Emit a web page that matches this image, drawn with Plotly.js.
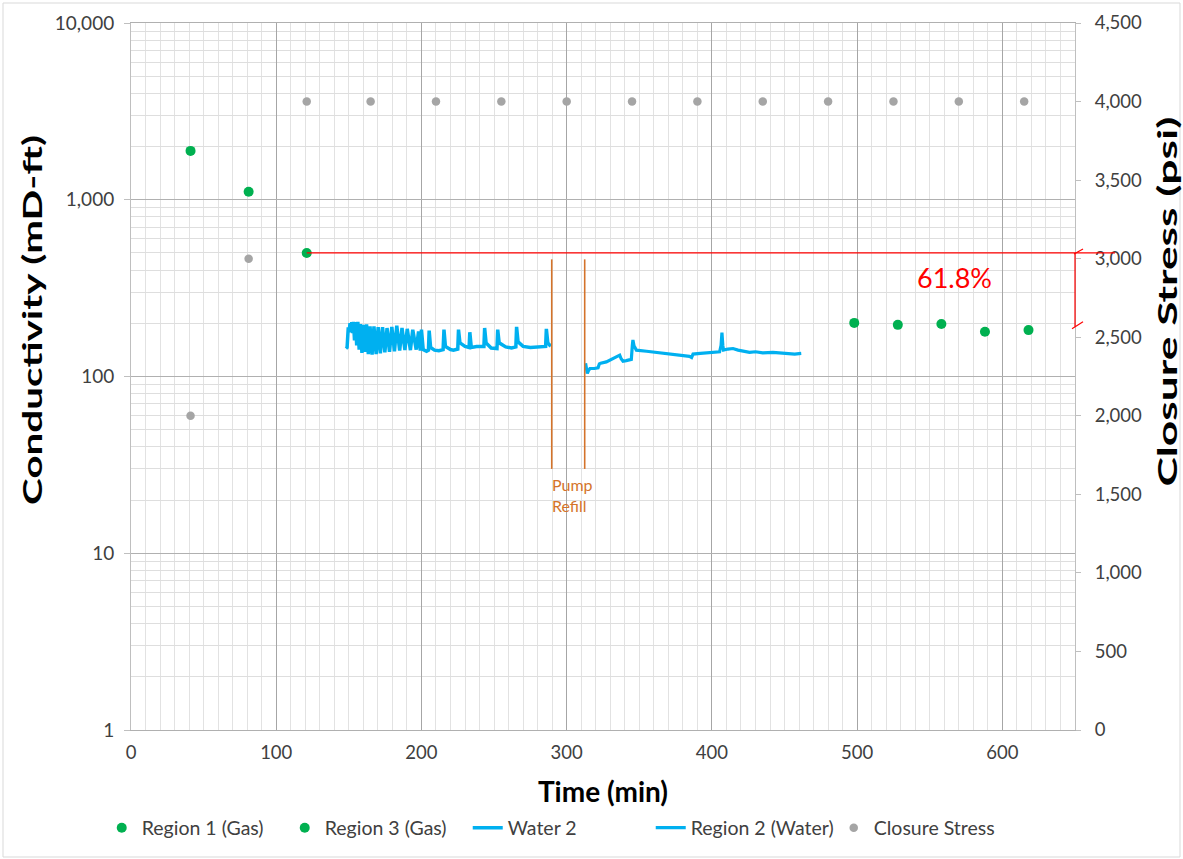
<!DOCTYPE html>
<html>
<head>
<meta charset="utf-8">
<script src="https://cdn.plot.ly/plotly-3.0.1.min.js"></script>
<style>html,body{margin:0;padding:0;background:#fff;}#chart{width:1183px;height:859px;}</style>
</head>
<body>
<div id="chart"></div>
<script>
// ---- Data ----
const region1Time = [41, 81, 121];
const region1Value = [1890, 1110, 500];

const region3Time = [498, 528, 558, 588, 618];
const region3Value = [201, 196, 198, 179, 183];

const water2Time = [148.0,148.8,149.6,150.2,150.8,151.4,152.0,152.6,153.2,153.9,154.6,155.4,156.2,157.1,158.0,159.0,160.0,161.1,162.2,163.4,164.6,166.0,167.3,168.8,170.2,171.7,173.2,174.8,176.3,178.0,179.6,181.4,183.0,185.0,186.6,188.6,190.2,192.4,194.0,196.4,198.0,199.2,200.0,201.2,203.5,204.8,205.3,206.3,209.0,212.0,214.9,215.5,216.5,220.0,222.0,225.0,225.5,226.5,230.0,232.8,233.3,234.3,238.0,241.0,243.0,243.5,244.5,248.0,252.0,252.5,253.5,258.0,262.0,265.0,265.5,266.5,270.0,275.0,280.0,285.5,286.0,287.0,289.0];
const water2Value = [144,146,190,178,200,182,203,176,204,160,203,150,204,142,198,136,196,138,197,134,192,133,192,134,190,135,190,137,188,138,191,139,194,140,188,141,186,141,184,142,180,140,184,142,139,141,182,146,141,140,142,184,148,142,141,143,184,155,148,146,178,146,148,147,148,188,155,145,144,184,155,147,145,147,191,157,148,146,147,148,186,155,148];

const region2WaterTime = [313.0,314.2,315.0,316.0,319.0,321.6,322.5,323.4,327.3,330.0,333.0,336.5,337.5,338.8,341.0,344.5,345.2,345.6,346.3,347.0,348.0,355.0,365.0,375.0,384.5,386.0,387.0,392.0,398.4,405.3,406.3,406.9,407.5,408.0,411.0,414.5,418.0,422.0,425.9,430.0,435.0,442.0,446.0,450.0,453.4,457.0,461.5];
const region2WaterValue = [119,104,108,111,111,112,118,119,121,124,128,132,126,122,123,125,150,161,150,145,141,139,136,133,130,128,134,135,137,138,150,177,150,141,143,144,141,139,137,138,136,137,136,136,135,134,135];

const stressTime = [41, 81, 121, 165, 210, 255, 300, 345, 390, 435, 480, 525, 570, 615];
const stressValue = [2000, 3000, 4000, 4000, 4000, 4000, 4000, 4000, 4000, 4000, 4000, 4000, 4000, 4000];

const pumpRefillTimes = [289.7, 312.4];
const pumpRefillRange = [30, 460];

const baselineConductivity = 500;   // start of red reference line
const reducedConductivity = 191;    // end of red bracket
const reductionLabel = '61.8%';

const yTickVals = [1, 10, 100, 1000, 10000];
const yTickText = ['1', '10', '100', '1,000', '10,000'];

const yTitle = 'Conductivity (mD-ft)';
const y2Title = 'Closure Stress (psi)';
const xTitle = 'Time (min)';

// ---- Chart ----
const minorVals = [];
for (let k = 0; k < 4; k++) for (let d = 2; d <= 9; d++) minorVals.push(d * Math.pow(10, k));

const green = '#00b050', blue = '#00b0f0', grey = '#a5a5a5', orange = '#d4732a', red = '#ff0000';

const pumpX = [], pumpY = [];
pumpRefillTimes.forEach(t => { pumpX.push(t, t, null); pumpY.push(pumpRefillRange[0], pumpRefillRange[1], null); });

const traces = [
  {x: region1Time, y: region1Value, name: 'Region 1 (Gas)', type: 'scatter', mode: 'markers', marker: {color: green, size: 10}},
  {x: region3Time, y: region3Value, name: 'Region 3 (Gas)', type: 'scatter', mode: 'markers', marker: {color: green, size: 10}},
  {x: water2Time, y: water2Value, name: 'Water 2', type: 'scatter', mode: 'lines', line: {color: blue, width: 3.5}},
  {x: region2WaterTime, y: region2WaterValue, name: 'Region 2 (Water)', type: 'scatter', mode: 'lines', line: {color: blue, width: 3.2}},
  {x: stressTime, y: stressValue, name: 'Closure Stress', type: 'scatter', mode: 'markers', yaxis: 'y2', marker: {color: grey, size: 8.5}},
  {x: pumpX, y: pumpY, name: 'Pump Refill', type: 'scatter', mode: 'lines', line: {color: orange, width: 1.6}, showlegend: false, hoverinfo: 'skip'}
];

const L = 131, R = 1075, T = 23, B = 730;
const pw = R - L, ph = B - T;
const py = v => Math.log10(v) / 4;   // paper y for left log axis value

const shapes = [
  {type: 'rect', xref: 'paper', yref: 'paper', x0: -(L - 3) / pw, x1: 1 + (1180 - R) / pw, y0: -(857 - B) / ph, y1: 1 + (T - 3) / ph, line: {color: '#d9d9d9', width: 1}, layer: 'below'},
  {type: 'line', xref: 'paper', yref: 'paper', x0: region1Time[2] / 650, x1: (1115 - L) / pw, y0: py(baselineConductivity), y1: py(baselineConductivity), line: {color: red, width: 1.2}},
  {type: 'line', xref: 'paper', yref: 'paper', x0: 1, x1: 1, y0: py(reducedConductivity), y1: py(baselineConductivity), line: {color: red, width: 1.2}},
  {type: 'line', xref: 'paper', yref: 'paper', xsizemode: 'pixel', xanchor: 1, x0: -1, x1: 8, ysizemode: 'pixel', yanchor: py(baselineConductivity), y0: -1, y1: 4, line: {color: red, width: 1.2}},
  {type: 'line', xref: 'paper', yref: 'paper', xsizemode: 'pixel', xanchor: 1, x0: -3, x1: 8, ysizemode: 'pixel', yanchor: py(reducedConductivity), y0: -2, y1: 5, line: {color: red, width: 1.2}}
];

const titleFont = {family: 'Lato, "Open Sans", sans-serif', size: 26, color: '#000000', weight: 700};
const annotations = [
  {xref: 'x', yref: 'y', x: pumpRefillTimes[0] - 1, y: Math.log10(28.5), xanchor: 'left', yanchor: 'top', align: 'left', showarrow: false,
   text: 'Pump<br>Refill', font: {size: 16, color: orange}},
  {xref: 'x', yref: 'y', x: 567, y: Math.log10(361), xanchor: 'center', yanchor: 'middle', showarrow: false,
   text: reductionLabel, font: {size: 27, color: red}},
  {xref: 'paper', yref: 'paper', x: (32 - L) / pw, y: (B - 320) / ph, xanchor: 'center', yanchor: 'middle', textangle: -90, showarrow: false,
   text: yTitle, font: titleFont},
  {xref: 'paper', yref: 'paper', x: 1 + (1167 - R) / pw, y: (B - 302) / ph, xanchor: 'center', yanchor: 'middle', textangle: -90, showarrow: false,
   text: y2Title, font: titleFont}
];

const layout = {
  width: 1183, height: 859,
  margin: {l: L, r: 1183 - R, t: T, b: 859 - B, pad: 0},
  paper_bgcolor: '#ffffff', plot_bgcolor: '#ffffff',
  font: {family: 'Lato, "Open Sans", sans-serif', color: '#404040', size: 18},
  showlegend: true,
  legend: {orientation: 'h', x: -0.031, xanchor: 'left', y: -(828 - B) / ph, yanchor: 'middle', font: {size: 19.5, color: '#404040'},
           traceorder: 'normal', bgcolor: 'rgba(0,0,0,0)', itemwidth: 30, entrywidth: 138, entrywidthmode: 'pixels'},
  xaxis: {
    range: [0, 650], tick0: 0, dtick: 100, showgrid: true, gridcolor: '#a6a6a6', gridwidth: 1,
    minor: {dtick: 10, tick0: 0, showgrid: true, gridcolor: '#e2e2e2', ticks: ''},
    zeroline: false, showline: true, mirror: true, linecolor: '#b0b0b0', ticks: '', ticklabelstandoff: 6,
    tickfont: {size: 18.5, color: '#404040'},
    title: {text: xTitle, font: {size: 28, color: '#000000', weight: 700}, standoff: 20}
  },
  yaxis: {
    type: 'log', range: [0, 4], tickmode: 'array', tickvals: yTickVals, ticktext: yTickText,
    showgrid: true, gridcolor: '#b0b0b0', gridwidth: 1,
    minor: {tickmode: 'array', tickvals: minorVals, showgrid: true, gridcolor: '#dedede', ticks: ''},
    zeroline: false, showline: true, linecolor: '#bfbfbf', ticks: 'outside', ticklen: 6, tickcolor: '#bfbfbf',
    ticklabelstandoff: 6,
    tickfont: {size: 19, color: '#404040'}
  },
  yaxis2: {
    overlaying: 'y', side: 'right', range: [0, 4500], tick0: 0, dtick: 500, tickformat: ',',
    showgrid: false, zeroline: false, showline: true, linecolor: '#bfbfbf', ticks: 'outside', ticklen: 5, tickcolor: '#bfbfbf',
    ticklabelstandoff: 10,
    tickfont: {size: 18.5, color: '#404040'}
  },
  shapes: shapes,
  annotations: annotations
};

Plotly.newPlot('chart', traces, layout, {displayModeBar: false, staticPlot: true}).then(() => {
  // stretch the vertical axis titles to the length they have in the reference
  document.querySelectorAll('.annotation-text').forEach(el => {
    if (el.textContent === yTitle || el.textContent === y2Title) {
      el.setAttribute('textLength', 370);
      el.setAttribute('lengthAdjust', 'spacingAndGlyphs');
    }
  });
});
</script>
</body>
</html>
